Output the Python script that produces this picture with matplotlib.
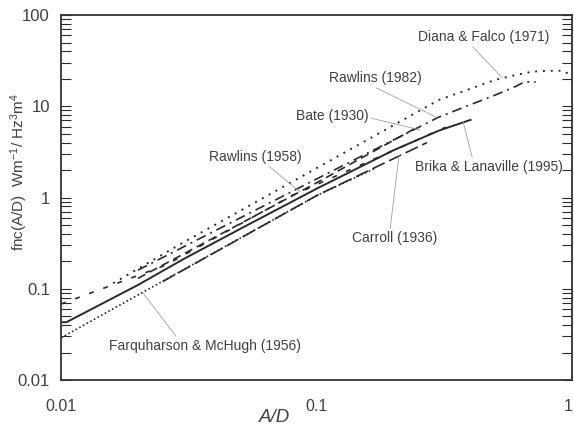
import numpy as np
import matplotlib
matplotlib.use('Agg')
import matplotlib.pyplot as plt
from matplotlib.ticker import FixedLocator, FixedFormatter, LogLocator, NullFormatter

plt.rcParams['font.family'] = ['Liberation Sans', 'DejaVu Sans']
plt.rcParams['mathtext.default'] = 'regular'

# fnc(A/D) curves, one pair of lists per study
diana_x = [0.016, 0.03, 0.1, 0.3, 0.5, 0.6, 0.7, 0.8, 0.92, 1.0]
diana_y = [0.115, 0.32, 2.1, 11.7, 19.5, 22.0, 24.0, 24.5, 24.5, 21.5]

rawlins82_x = [0.02, 0.1, 0.3, 0.5, 0.6, 0.65, 0.72]
rawlins82_y = [0.16, 1.6, 7.6, 13.3, 16.5, 18.5, 18.5]

bate_x = [0.02, 0.1, 0.25]
bate_y = [0.13, 1.45, 6.0]

rawlins58_x = [0.01, 0.0255, 0.08, 0.32]
rawlins58_y = [0.068, 0.18, 1.05, 5.9]

brika_x = [0.01, 0.0105, 0.02, 0.03, 0.05, 0.1, 0.2, 0.3, 0.4]
brika_y = [0.043, 0.043, 0.11, 0.21, 0.45, 1.25, 3.3, 5.4, 7.1]

carroll_x = [0.025, 0.1, 0.27]
carroll_y = [0.12, 1.05, 4.0]

farq_x = [0.01, 0.1, 0.17]
farq_y = [0.029, 1.05, 2.1]

yticks = [0.01, 0.1, 1, 10, 100]
ytick_labels = ['0.01', '0.1', '1', '10', '100']
xticks = [0.01, 0.1, 1]
xtick_labels = ['0.01', '0.1', '1']

ink = '#2a2a2a'
txt = '#404040'
lead = '#a0a0a0'

fig = plt.figure(figsize=(5.74, 4.30), dpi=100)
ax = fig.add_axes([0.1063, 0.1163, 0.8907, 0.8487])

ax.plot(diana_x, diana_y, color=ink, lw=1.4, ls=(0, (1, 3)))
ax.plot(rawlins82_x, rawlins82_y, color=ink, lw=1.2, ls=(0, (6, 3, 1.2, 3)))
ax.plot(bate_x, bate_y, color=ink, lw=1.2, ls=(0, (5, 3)))
ax.plot(rawlins58_x, rawlins58_y, color=ink, lw=1.2, ls=(0, (3, 6)))
ax.plot(brika_x, brika_y, color=ink, lw=1.4, ls='-')
ax.plot(carroll_x, carroll_y, color=ink, lw=1.2, ls=(0, (8, 3)))
ax.plot(farq_x, farq_y, color=ink, lw=1.2, ls=(0, (1, 1.5)))

ax.set_xscale('log')
ax.set_yscale('log')
ax.set_xlim(0.01, 1)
ax.set_ylim(0.01, 100)

ax.xaxis.set_major_locator(FixedLocator(xticks))
ax.xaxis.set_major_formatter(FixedFormatter(xtick_labels))
ax.xaxis.set_minor_locator(FixedLocator([]))
ax.yaxis.set_major_locator(FixedLocator(yticks))
ax.yaxis.set_major_formatter(FixedFormatter(ytick_labels))
ax.yaxis.set_minor_locator(LogLocator(base=10, subs=np.arange(2, 10)))
ax.yaxis.set_minor_formatter(NullFormatter())

ax.tick_params(axis='x', which='both', length=0, pad=14, labelsize=11.5, labelcolor=txt)
ax.tick_params(axis='y', which='both', direction='in', length=7, width=0.8,
               left=True, right=True, color=ink, pad=8, labelsize=12, labelcolor=txt)
for s in ax.spines.values():
    s.set_color('#333333')
    s.set_linewidth(1.3)

# keep the last x label inside the figure
ax.get_xticklabels()[-1].set_horizontalalignment('right')

# study labels with thin leader lines
notes = [
    ('Diana & Falco (1971)', (0.449, 57.4), (0.532, 20.5), (0.4, 0)),
    ('Rawlins (1982)', (0.169, 20.4), (0.294, 7.6), (0.45, 0)),
    ('Bate (1930)', (0.115, 7.8), (0.254, 5.5), (1, 0.4)),
    ('Rawlins (1958)', (0.0575, 2.78), (0.0862, 1.15), (0.62, 0)),
    ('Brika & Lanaville (1995)', (0.473, 2.16), (0.374, 6.8), (0.39, 1)),
    ('Carroll (1936)', (0.201, 0.36), (0.21, 2.9), (0.45, 1)),
    ('Farquharson & McHugh (1956)', (0.0366, 0.0236), (0.0209, 0.09), (0.36, 1)),
]
for label, pos, tip, rel in notes:
    ax.annotate(label, xy=tip, xytext=pos, ha='center', va='center',
                fontsize=10, color=txt,
                arrowprops=dict(arrowstyle='-', color=lead, lw=0.6,
                                relpos=rel, shrinkA=0, shrinkB=0))

fig.text(19 / 574, 1 - 172 / 430, 'fnc(A/D)  Wm$^{-1}$/ Hz$^{3}$m$^{4}$',
         rotation=90, ha='center', va='center', fontsize=11, color=txt)
fig.text(275 / 574, 1 - 418 / 430, 'A/D', style='italic',
         ha='center', va='center', fontsize=13.5, color=txt)

fig.savefig('out.png', dpi=100)
